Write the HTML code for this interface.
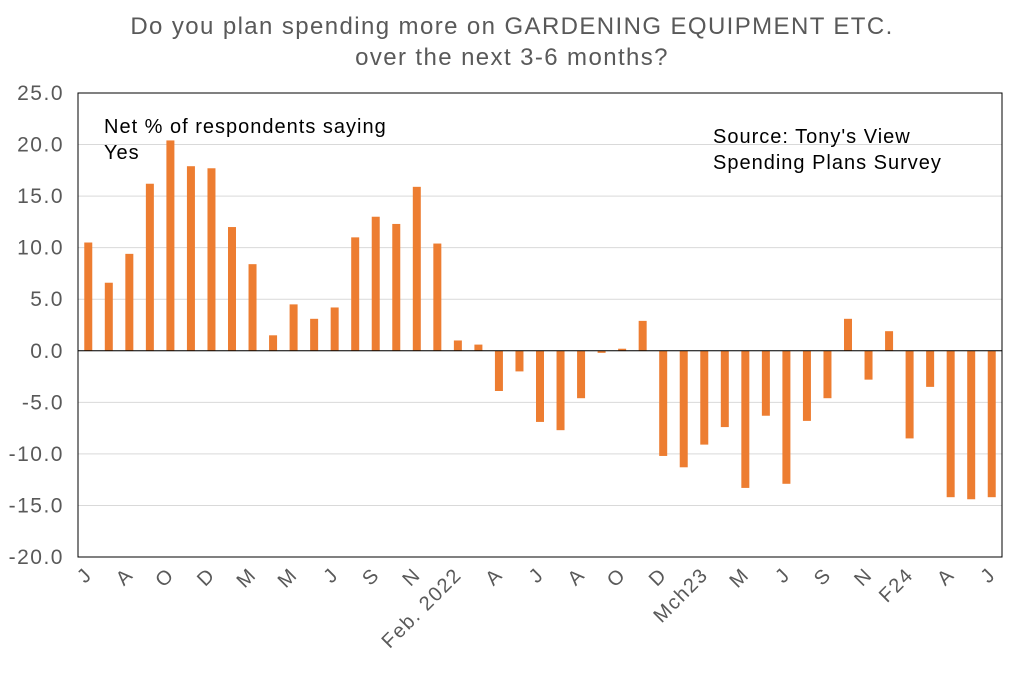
<!DOCTYPE html>
<html><head><meta charset="utf-8"><style>
body{margin:0;background:#fff;width:1024px;height:669px;overflow:hidden;font-family:"Liberation Sans",sans-serif}
</style></head><body>
<svg id="chart" width="1024" height="669" xmlns="http://www.w3.org/2000/svg" font-family="Liberation Sans, sans-serif">
<text x="512" y="34" text-anchor="middle" font-size="24" letter-spacing="1.4" fill="#595959">Do you plan spending more on GARDENING EQUIPMENT ETC.</text>
<text x="512" y="65" text-anchor="middle" font-size="24" letter-spacing="1.4" fill="#595959">over the next 3-6 months?</text>
<g id="grid"></g><g id="bars"></g><g id="axes"></g>
<rect x="78" y="93" width="924" height="464" fill="none" stroke="#000" stroke-width="1"/>
<text x="104" y="133" font-size="20" letter-spacing="1" fill="#000">Net % of respondents saying</text>
<text x="104" y="159" font-size="20" letter-spacing="1" fill="#000">Yes</text>
<text x="713" y="143" font-size="20" letter-spacing="1" fill="#000">Source: Tony's View</text>
<text x="713" y="169" font-size="20" letter-spacing="1" fill="#000">Spending Plans Survey</text>
</svg>
<script>
const values=[10.5,6.6,9.4,16.2,20.4,17.9,17.7,12.0,8.4,1.5,4.5,3.1,4.2,11.0,13.0,12.3,15.9,10.4,1.0,0.6,-3.9,-2.0,-6.9,-7.7,-4.6,-0.2,0.2,2.9,-10.2,-11.3,-9.1,-7.4,-13.3,-6.3,-12.9,-6.8,-4.6,3.1,-2.8,1.9,-8.5,-3.5,-14.2,-14.4,-14.2];
const xLabels=["J","A","O","D","M","M","J","S","N","Feb. 2022","A","J","A","O","D","Mch23","M","J","S","N","F24","A","J"];
const yTicks=[25,20,15,10,5,0,-5,-10,-15,-20];
const NS="http://www.w3.org/2000/svg";
const L=78,R=1002,T=93,B=557,yMax=25,yMin=-20;
const y=v=>T+(yMax-v)/(yMax-yMin)*(B-T);
const step=(R-L)/values.length;
const x=i=>L+step*(i+0.5);
function mk(t,a,p){const e=document.createElementNS(NS,t);for(const k in a)e.setAttribute(k,a[k]);p.appendChild(e);return e;}
const grid=document.getElementById('grid'),bars=document.getElementById('bars'),axes=document.getElementById('axes');
yTicks.forEach(v=>{
 const g=mk('line',{x1:L,x2:R,y1:y(v),y2:y(v),stroke:'#d9d9d9','stroke-width':1},grid);
 
 
 const t=mk('text',{x:L-14,y:y(v)+7,'text-anchor':'end','font-size':21,'letter-spacing':1.5,fill:'#595959'},axes);
 t.textContent=v.toFixed(1);
 
 
});
values.forEach((v,i)=>{
 const r=mk('rect',{x:x(i)-4,y:Math.min(y(v),y(0)),width:8,height:Math.abs(y(v)-y(0)),fill:'#ed7d31'},bars);
 
 
});
const z=mk('line',{x1:L,x2:R,y1:y(0),y2:y(0),stroke:'#000','stroke-width':1},axes);


xLabels.forEach((s,j)=>{
 const cx=x(j*2)+5,cy=B+19;
 const t=mk('text',{x:cx,y:cy,'text-anchor':'end','font-size':20,'letter-spacing':1.5,fill:'#595959',transform:`rotate(-45 ${cx} ${cy})`},axes);
 t.textContent=s;
 
 
});
</script>
</body></html>
